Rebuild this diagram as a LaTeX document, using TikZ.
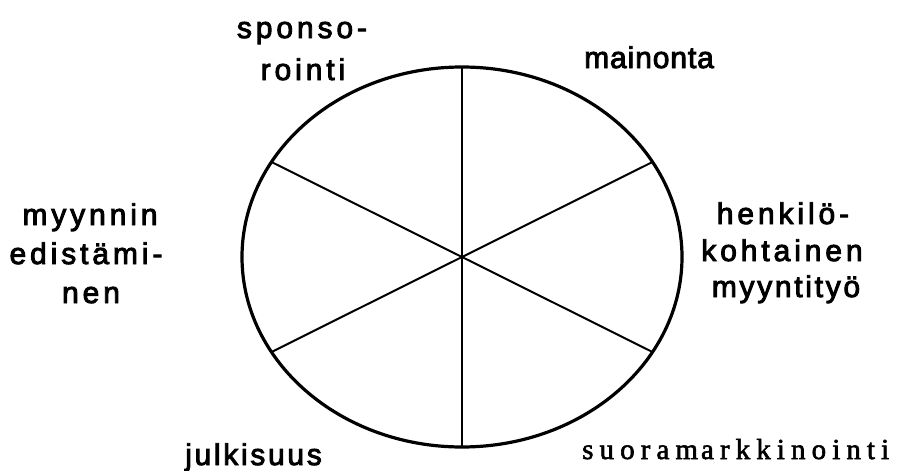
\documentclass[tikz,border=0pt]{standalone}
\usepackage{fontspec}
\setmainfont{Liberation Sans}
\newfontfamily\lsans[LetterSpace=13,FakeBold=3]{Liberation Sans}
\newfontfamily\lsanst[LetterSpace=9,FakeBold=3]{Liberation Sans}
\newfontfamily\lsansm[LetterSpace=3,FakeBold=3]{Liberation Sans}
\newfontfamily\lserif[LetterSpace=21,FakeBold=2]{Liberation Serif}
\tikzset{
  lbl/.style={inner sep=0pt, font=\lsans\fontsize{30}{36}\selectfont, anchor=base},
  lblt/.style={inner sep=0pt, font=\lsanst\fontsize{30}{36}\selectfont, anchor=base},
  lblm/.style={inner sep=0pt, font=\lsansm\fontsize{30}{36}\selectfont, anchor=base west},
  lbls/.style={inner sep=0pt, font=\lserif\fontsize{29}{35}\selectfont, anchor=base west},
  rim/.style={line width=3.2pt},
  spoke/.style={line width=2pt}
}
\begin{document}
\begin{tikzpicture}[x=1pt,y=-1pt]
\useasboundingbox (0,0) rectangle (905,471);
% wheel
\coordinate (c) at (462,257);
\draw[rim] (c) ellipse [x radius=220pt, y radius=190pt];
\coordinate (top) at (462,67);
\coordinate (bot) at (462,447);
\coordinate (ul) at (271.5,162);
\coordinate (ur) at (652.5,162);
\coordinate (ll) at (271.5,352);
\coordinate (lr) at (652.5,352);
\draw[spoke] (top) -- (bot);
\draw[spoke] (ul) -- (lr);
\draw[spoke] (ur) -- (ll);
% labels
\node[lbl] (spon1) at (302,38) {sponso-};
\node[lbl] (spon2) at (303,80) {rointi};
\node[lblm] (main) at (584,68) {mainonta};
\node[lbl] (myy1) at (90,225) {myynnin};
\node[lbl] (myy2) at (86,264) {edistämi-};
\node[lbl] (myy3) at (91,303) {nen};
\node[lbl] (hen1) at (783,224) {henkilö-};
\node[lbl] (hen2) at (782,261) {kohtainen};
\node[lblt] (hen3) at (786,297) {myyntityö};
\node[lblt, anchor=base west] (julk) at (185,465) {julkisuus};
\node[lbls] (suora) at (582,459) {suoram\kern3pt arkkinointi};
\end{tikzpicture}
\end{document}
